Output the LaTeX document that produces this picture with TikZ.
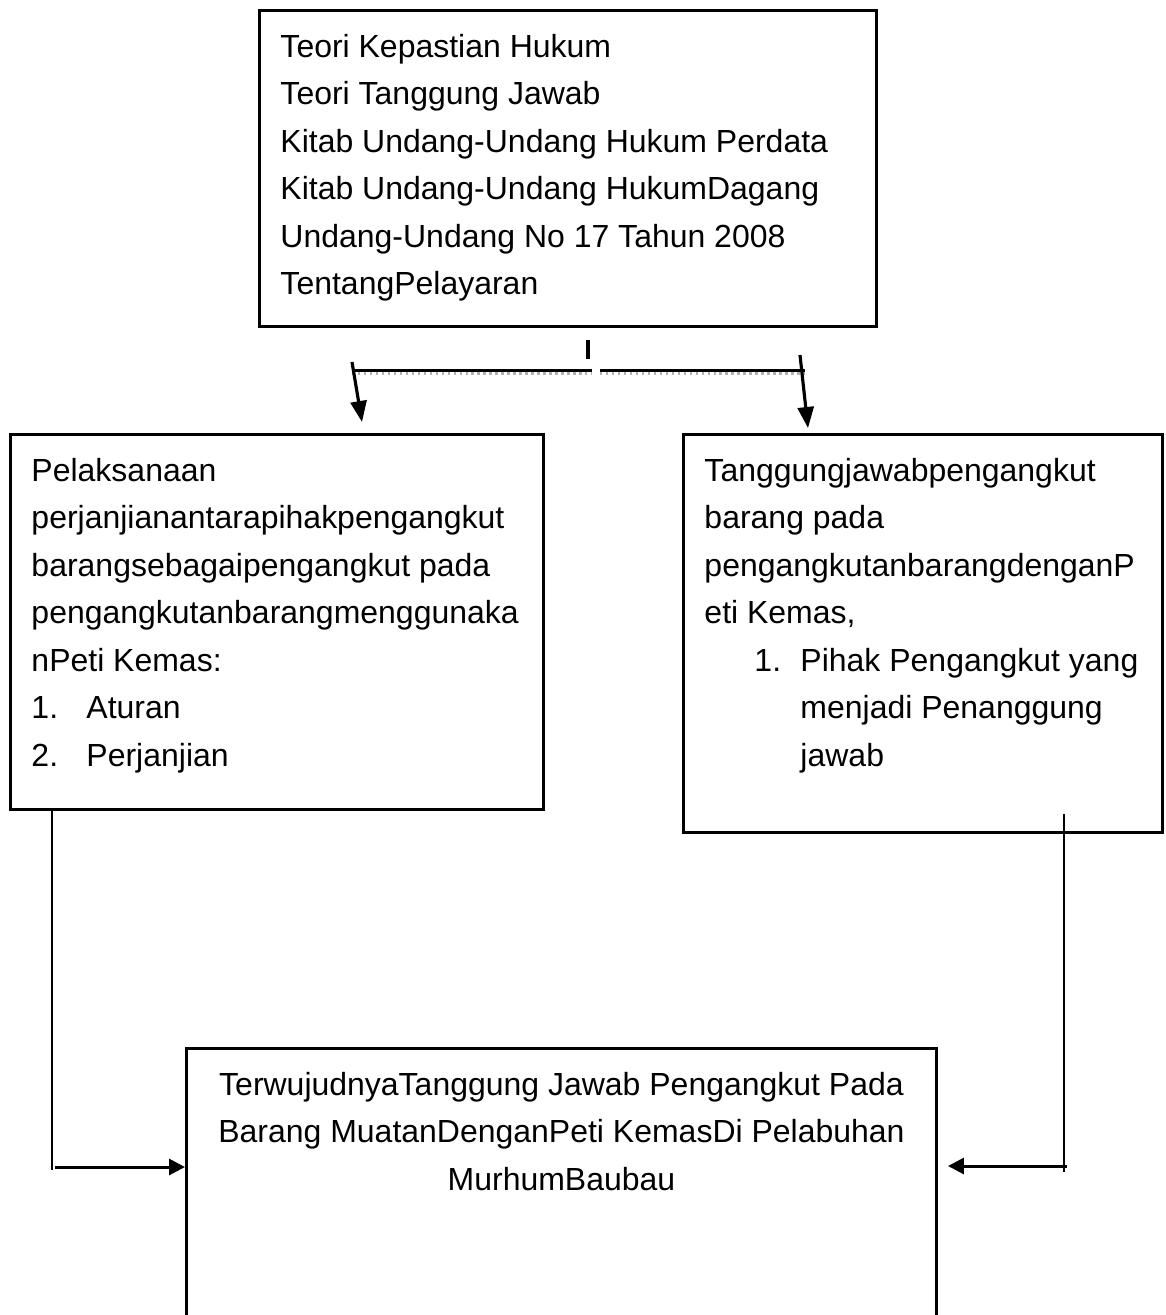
\documentclass[tikz,border=0pt]{standalone}
\usepackage{fontspec}
\setmainfont{Liberation Sans}
\usetikzlibrary{arrows.meta}

\begin{document}
\begin{tikzpicture}[kotak/.style = {draw, line width=0.85pt, anchor=north west, inner xsep=0.21cm, inner ysep=0.138cm, font=\fontsize{9.1}{13.5}\selectfont},
    garis/.style = {line width=0.85pt},
    bayang/.style = {line width=0.7pt, gray!60, densely dotted},
    panah/.style = {line width=0.85pt, -{Triangle[length=0.16cm, width=0.16cm]}},
    panahatas/.style = {line width=0.9pt, -{Triangle[length=0.21cm, width=0.16cm]}}]
                \useasboundingbox (0,0) rectangle (11.65,-13.15);

                \node[kotak] (teori) at (2.58,-0.09) {\parbox[c][2.884cm][t]{5.75cm}{\begin{tabular}{@{}l@{}}
                    Teori Kepastian Hukum\\
                    Teori Tanggung Jawab\\
                    Kitab Undang-Undang Hukum Perdata\\
                    Kitab Undang-Undang HukumDagang\\
                    Undang-Undang No 17 Tahun 2008\\
                    TentangPelayaran
                    \end{tabular}}};
                \node[kotak] (pelaksanaan) at (0.09,-4.33) {\parbox[c][3.474cm][t]{4.91cm}{\begin{tabular}{@{}l@{}}
                    Pelaksanaan\\
                    perjanjianantarapihakpengangkut\\
                    barangsebagaipengangkut pada\\
                    pengangkutanbarangmenggunaka\\
                    nPeti Kemas:\\
                    \makebox[0.55cm][l]{1.}Aturan\\
                    \makebox[0.55cm][l]{2.}Perjanjian
                    \end{tabular}}};
                \node[kotak] (tanggungjawab) at (6.82,-4.33) {\parbox[c][3.704cm][t]{4.37cm}{\begin{tabular}{@{}l@{}}
                    Tanggungjawabpengangkut\\
                    barang pada\\
                    pengangkutanbarangdenganP\\
                    eti Kemas,\\
                    \hspace*{0.5cm}\makebox[0.46cm][l]{1.}Pihak Pengangkut yang\\
                    \hspace*{0.96cm}menjadi Penanggung\\
                    \hspace*{0.96cm}jawab
                    \end{tabular}}};
                \node[kotak] (hasil) at (1.85,-10.47) {\parbox[c][3.254cm][t]{7.08cm}{\centering\begin{tabular}{@{}c@{}}
                    TerwujudnyaTanggung Jawab Pengangkut Pada\\
                    Barang MuatanDenganPeti KemasDi Pelabuhan\\
                    MurhumBaubau
                    \end{tabular}}};

                \coordinate (tick)   at (5.88,-3.59);
                \coordinate (busL)   at (3.52,-3.70);
                \coordinate (busM1)  at (5.92,-3.70);
                \coordinate (busM2)  at (6.00,-3.70);
                \coordinate (busR)   at (8.05,-3.70);
                \coordinate (panahL) at (3.52,-3.62);
                \coordinate (panahR) at (8.00,-3.55);
                \coordinate (kiriB)  at (0.52,-11.70);
                \coordinate (kiriA)  at (0.55,-11.67);
                \coordinate (kananB) at (10.64,-11.72);
                \coordinate (kananA) at (10.67,-11.66);

                \draw[garis, line width=1.1pt] ([yshift=-0.12cm]teori.south -| tick) -- (tick);
                \draw[bayang] ([yshift=-0.035cm]busL) -- ([yshift=-0.035cm]busM1)
                              ([yshift=-0.035cm]busM2) -- ([yshift=-0.035cm]busR);
                \draw[garis] (busL) -- (busM1) (busM2) -- (busR);
                \draw[panahatas] (panahL) -- ([xshift=0.10cm, yshift=0.11cm]pelaksanaan.north -| panahL);
                \draw[panahatas] (panahR) -- ([xshift=0.08cm, yshift=0.05cm]tanggungjawab.north -| panahR);
                \draw[garis] (pelaksanaan.south -| kiriB) -- (kiriB);
                \draw[panah] (kiriA) -- (hasil.west |- kiriA);
                \draw[garis] ([yshift=0.2cm]tanggungjawab.south -| kananB) -- (kananB);
                \draw[panah] (kananA) -- ([xshift=0.1cm]hasil.east |- kananA);
            \end{tikzpicture}
\end{document}
